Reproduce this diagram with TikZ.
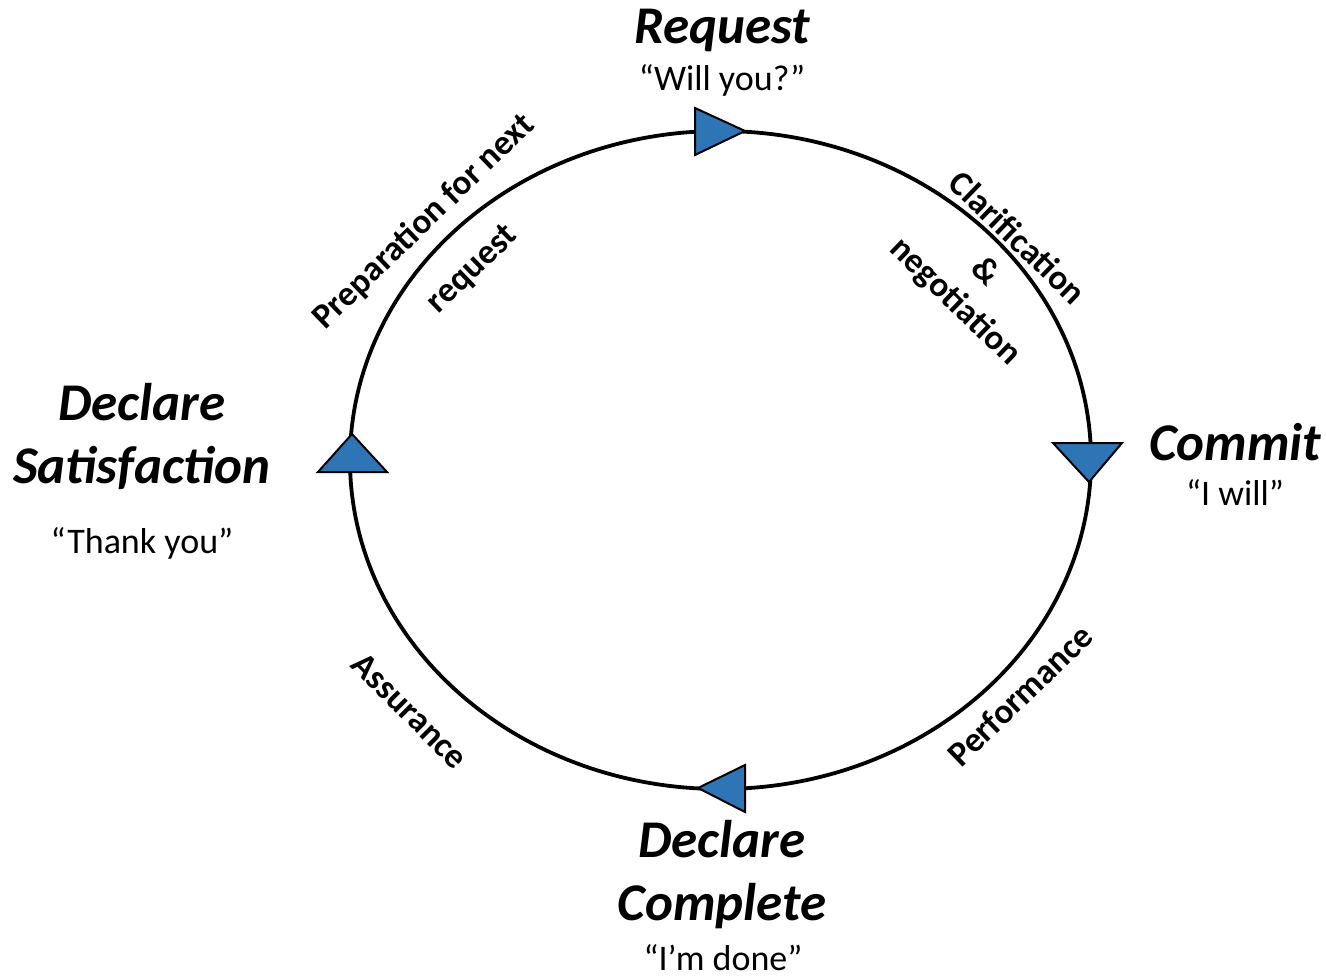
\documentclass[tikz,border=0pt]{standalone}
\usepackage{fontspec}
\setmainfont{Carlito}
\definecolor{tipblue}{RGB}{46,117,182}
\tikzset{
  x=1pt, y=-1pt,
  ring/.style={line width=3.8pt, black},
  tip/.style={fill=tipblue, draw=black, line width=2pt, line join=miter},
  stage/.style={font=\fontsize{53}{63}\selectfont\bfseries\itshape, align=center, inner sep=0pt},
  quote/.style={font=\fontsize{36}{40}\selectfont, inner sep=0pt},
  phase/.style={font=\fontsize{35}{40}\selectfont\bfseries, inner sep=0pt, align=center}
}
\begin{document}
\begin{tikzpicture}
\useasboundingbox (0,0) rectangle (1326,976);
% the cycle
\draw[ring] (720.5,460) ellipse [x radius=370.5pt, y radius=329pt];
% direction markers
\path[tip] (695,108) -- (695,155) -- (745,131) -- cycle;
\path[tip] (1053,443) -- (1122,443) -- (1089,482) -- cycle;
\path[tip] (745,765) -- (745,812) -- (698,788) -- cycle;
\path[tip] (318,472) -- (387,472) -- (352,434) -- cycle;
% stages
\node[stage] (req) at (722,30) {Request};
\node[quote] (reqq) at (722,80) {“Will you?”};
\node[stage] (com) at (1235,442) {Commit};
\node[quote] (comq) at (1235,493) {“I will”};
\node[stage] (sat) at (142,436) {Declare\\Satisfaction};
\node[quote] (satq) at (142,543) {“Thank you”};
\node[stage] (cpl) at (722,875) {Declare\\Complete};
\node[quote] (cplq) at (723,958) {“I’m done”};
% phases along the cycle
\node[phase, rotate=-44] (clar) at (1018,237) {Clarification};
\node[phase, rotate=-44] (amp) at (987,270) {\&};
\node[phase, rotate=-44] (neg) at (955,302) {negotiation};
\node[phase, rotate=44] (prep) at (424,222) {Preparation for next};
\node[phase, rotate=44] (prep2) at (473,270) {request};
\node[phase, rotate=44] (perf) at (1020,695) {Performance};
\node[phase, rotate=-45] (assu) at (410,711) {Assurance};
\end{tikzpicture}
\end{document}
